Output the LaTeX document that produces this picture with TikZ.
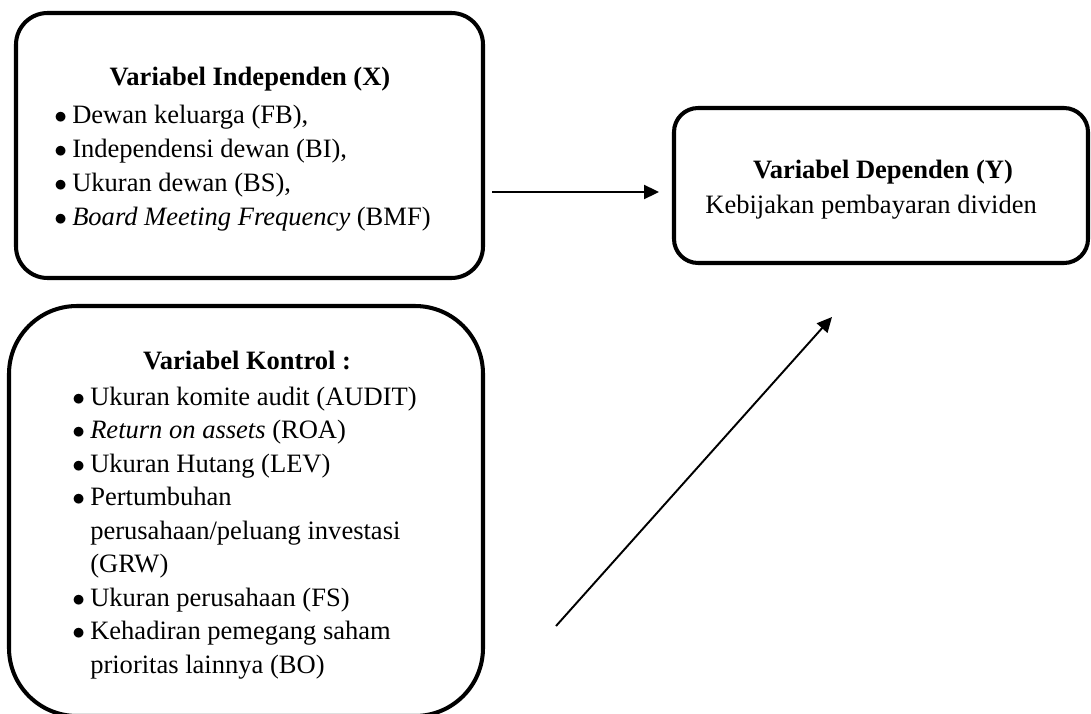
\documentclass[tikz,border=0pt]{standalone}
\usepackage{fontspec}
\setmainfont{Liberation Serif}
\usetikzlibrary{arrows.meta, positioning}
\newcommand{\pxu}{0.02cm}
\newcommand{\itm}{\makebox[10.2pt][l]{$\bullet$}}
\newcommand{\itmgap}{\hspace*{10.2pt}}

\begin{document}
\begin{tikzpicture}[x=\pxu, y=-\pxu,
    every node/.style={inner sep=0pt, font=\fontsize{15.1}{19.1}\selectfont},
    varbox/.style={draw, line width=2.3pt},
    vtitle/.style={anchor=base, font=\fontsize{15.1}{19.1}\selectfont\bfseries},
    vlist/.style={anchor=base west, align=left},
    flow/.style={line width=1.1pt, -{Triangle[length=8.5pt, width=8pt]}}]
    \useasboundingbox (0,0) rectangle (1091,713);
    \node[varbox, rounded corners=18pt, minimum width=467*\pxu, minimum height=265*\pxu] (indep) at (249.5,145.5) {};
    \node[varbox, rounded corners=38.7pt, minimum width=474*\pxu, minimum height=410*\pxu] (kontrol) at (246,511) {};
    \node[varbox, rounded corners=13.7pt, minimum width=414*\pxu, minimum height=155*\pxu] (dep) at (881,185.5) {};
    \node[vtitle] (indep-title) at (250,86) {Variabel Independen (X)};
    \node[vlist, font=\fontsize{15.1}{19.5}\selectfont] (indep-list) at (54,123) {\begin{tabular}[t]{@{}l@{}}
        \itm Dewan keluarga (FB),\\
        \itm Independensi dewan (BI),\\
        \itm Ukuran dewan (BS),\\
        \itm \textit{Board Meeting Frequency} (BMF)
    \end{tabular}};
    \node[vtitle] (kontrol-title) at (247,369) {Variabel Kontrol :};
    \node[vlist] (kontrol-list) at (72,405) {\begin{tabular}[t]{@{}l@{}}
        \itm Ukuran komite audit (AUDIT)\\
        \itm \textit{Return on assets} (ROA)\\
        \itm Ukuran Hutang (LEV)\\
        \itm Pertumbuhan\\
        \itmgap perusahaan/peluang investasi\\
        \itmgap (GRW)\\
        \itm Ukuran perusahaan (FS)\\
        \itm Kehadiran pemegang saham\\
        \itmgap prioritas lainnya (BO)
    \end{tabular}};
    \node[vtitle] (dep-title) at (883,178) {Variabel Dependen (Y)};
    \node[vlist] (dep-text) at (705,213) {Kebijakan pembayaran dividen};
    \coordinate (dep-in) at ([shift={(-13,6.5)}]dep.west);
    \path (indep.east |- dep-in) ++(7,0) coordinate (indep-out);
    \draw[flow] (indep-out) -- (dep-in);
    \coordinate (kontrol-out) at (556,626);
    \coordinate (dep-low) at (832,317);
    \draw[flow] (kontrol-out) -- (dep-low);
\end{tikzpicture}
\end{document}
